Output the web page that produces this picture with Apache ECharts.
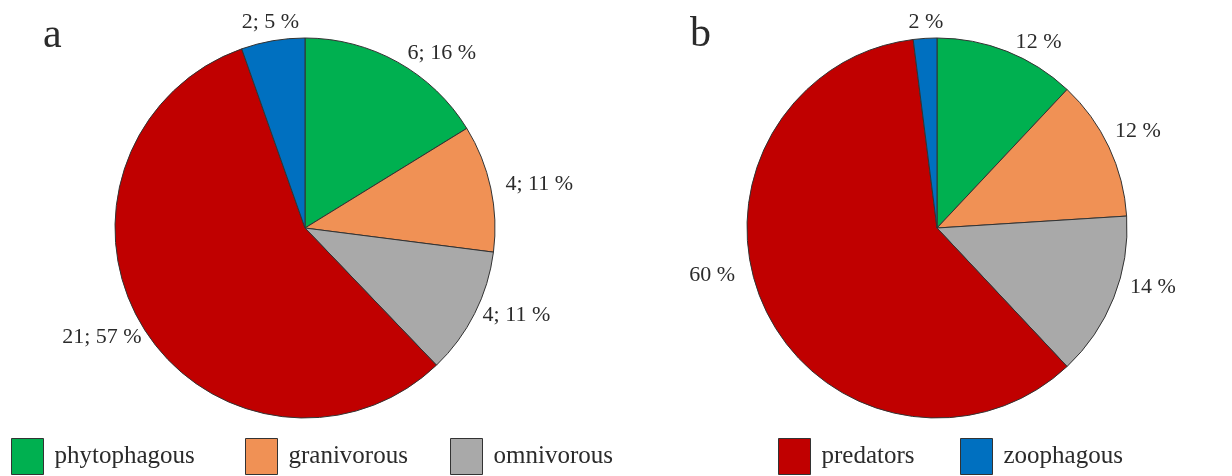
<!DOCTYPE html>
<html>
<head>
<meta charset="utf-8">
<script src="https://cdn.jsdelivr.net/npm/echarts@6/dist/echarts.min.js"></script>
<style>
  html, body { margin: 0; padding: 0; background: #fff; }
  #chart { width: 1232px; height: 476px; }
</style>
</head>
<body>
<div id="chart"></div>
<script>
// Feeding groups, in drawing order (clockwise from 12 o'clock)
const groups = ['phytophagous', 'granivorous', 'omnivorous', 'predators', 'zoophagous'];
const groupColors = ['#00B050', '#F09155', '#A9A9A9', '#C00000', '#0070C0'];

// Panel a: number of species and share, %
const countsA = [6, 4, 4, 21, 2];
const percentA = [16, 11, 11, 57, 5];

// Panel b: share of individuals, %
const percentB = [12, 12, 14, 60, 2];

const panelLetters = ['a', 'b'];

// Small per-slice label nudges (px) so the labels sit clear of the rim
const labelNudgeA = [[0, 0], [0, -2], [-6, -3], [12, 4], [33, -9]];
const labelNudgeB = [[0, 0], [-8, -12], [2, -14], [-16, -38], [24, -6]];

const serif = '"Liberation Serif", "DejaVu Serif", serif';
const ink = '#2b2b2b';

const chart = echarts.init(document.getElementById('chart'), null, { renderer: 'canvas' });

function pieSeries(values, labels, nudges, center) {
  return {
    type: 'pie',
    center: center,
    radius: 190,
    startAngle: 90,
    clockwise: true,
    animation: false,
    avoidLabelOverlap: false,
    itemStyle: { borderColor: '#333', borderWidth: 1 },
    label: {
      show: true,
      position: 'outside',
      fontFamily: serif,
      fontSize: 22,
      color: ink,
      formatter: p => labels[p.dataIndex]
    },
    labelLine: { show: false, length: 10, length2: 0 },
    emphasis: { disabled: true },
    data: values.map((v, i) => ({
      name: groups[i],
      value: v,
      itemStyle: { color: groupColors[i] },
      label: { offset: nudges[i] }
    }))
  };
}

const labelsA = countsA.map((c, i) => c + '; ' + percentA[i] + ' %');
const labelsB = percentB.map(p => p + ' %');

// One legend block per group so each can sit at its own spot along the bottom
const legendLeft = [11, 245, 450, 778, 960];
const legends = groups.map((g, i) => ({
  data: [g],
  left: legendLeft[i],
  top: 438,
  padding: 0,
  orient: 'horizontal',
  icon: 'rect',
  itemWidth: 32,
  itemHeight: 36,
  itemGap: 0,
  selectedMode: false,
  textStyle: { fontFamily: serif, fontSize: 25, color: ink, padding: [3, 0, 0, 6] },
  itemStyle: { borderColor: '#333', borderWidth: 1 }
}));

const letterStyle = { fontFamily: serif, fontSize: 42, fontWeight: 'normal', color: ink };

chart.setOption({
  backgroundColor: '#fff',
  animation: false,
  title: [
    { text: panelLetters[0], left: 38, top: 10, textStyle: letterStyle },
    { text: panelLetters[1], left: 685, top: 9, textStyle: letterStyle }
  ],
  legend: legends,
  series: [
    pieSeries(countsA, labelsA, labelNudgeA, [305, 228]),
    pieSeries(percentB, labelsB, labelNudgeB, [937, 228])
  ]
});
</script>
</body>
</html>
